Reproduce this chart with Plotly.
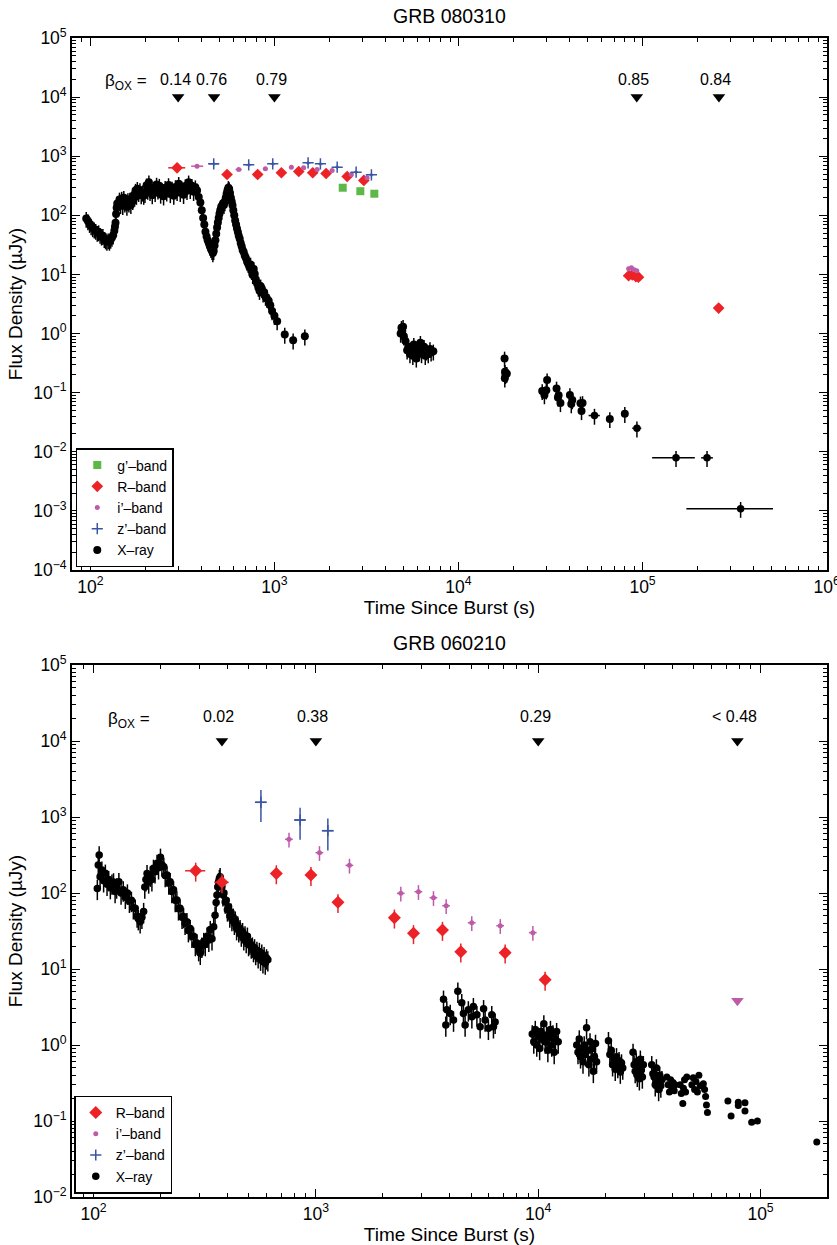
import math
import plotly.graph_objects as go

# ================= GRB 080310 (top panel) =================
top_xray_t = [95, 97, 99, 101, 103, 105, 107, 109, 111, 113, 115, 117, 119, 121, 123, 125, 127, 129, 131, 133,
              135, 136, 137, 138, 139, 140, 142, 144, 146, 148, 150, 152, 154, 156, 158, 160, 162, 164, 166, 168,
              170, 172, 174, 176, 178, 180, 183, 186, 189, 192, 195, 198, 202, 205, 208, 211, 214, 217, 221, 225,
              229, 233, 237, 241, 245, 250, 255, 260, 266, 272, 278, 284, 290, 296, 302, 308, 314, 321, 328, 335,
              342, 349, 356, 364, 372, 380, 388, 396, 403, 410, 416, 422, 428, 434, 440, 446, 452, 458, 463, 468,
              473, 478, 483, 488, 493, 498, 503, 508, 514, 520, 526, 532, 538, 544, 550, 556, 562, 568, 574, 580,
              586, 592, 598, 605, 612, 619, 626, 633, 640, 648, 656, 664, 672, 681, 690, 700, 710, 720, 730, 742,
              752, 762, 772, 782, 793, 805, 818, 830, 842, 855, 868, 880, 895, 910, 931, 950, 971, 1000, 1035, 1138,
              1264, 1463,
              4850, 4900, 4950, 5000, 5050, 5150, 5260, 5350, 5450, 5550, 5650, 5720, 5800, 5900, 6000, 6100, 6210,
              6300, 6400, 6500, 6600, 6700, 6850, 7000, 7100, 7300,
              17800, 17850, 17900, 18000, 18100, 18300,
              28500, 29300, 30000, 30300, 34100, 34700, 35000, 35800, 40300, 41000, 41500, 46000, 46600, 47200,
              66400, 80100]
top_xray_f = [88, 80, 72, 66, 61, 58, 55, 51, 52, 47, 44, 45, 40, 38, 36, 38, 36, 39, 42, 46,
              55, 64, 75, 105, 135, 158, 140, 186, 150, 192, 145, 198, 160, 172, 140, 182, 160, 186, 150, 192,
              175, 218, 200, 262, 215, 282, 240, 268, 220, 244, 215, 230, 322, 262, 362, 250, 300, 220, 272, 240,
              332, 265, 318, 225, 266, 210, 292, 245, 326, 230, 284, 215, 302, 250, 342, 240, 286, 222, 312, 260,
              362, 270, 318, 250, 300, 262, 205, 165, 122, 90, 70, 53, 44, 38, 34, 30, 27, 25, 23, 25,
              31, 38, 49, 62, 76, 90, 106, 122, 140, 147, 160, 150, 168, 198, 232, 265, 292, 278, 238, 198,
              172, 148, 122, 100, 82, 70, 60, 52, 45, 40, 34, 30, 26, 24, 21, 19, 16.5, 15.2, 13.6, 14.8,
              11.5, 9.8, 12.4, 10.2, 8.2, 7.0, 6.0, 5.3, 6.3, 5.7, 4.8, 5.0, 4.2, 3.9, 3.6, 3.0, 2.4, 2.0, 1.62, 0.96,
              0.77, 0.90,
              1.0, 1.25, 1.1, 1.3, 0.9, 0.75, 0.52, 0.6, 0.45, 0.55, 0.42, 0.65, 0.5, 0.38, 0.58, 0.48, 0.7,
              0.45, 0.55, 0.6, 0.42, 0.5, 0.45, 0.55, 0.48, 0.5,
              0.38, 0.175, 0.225, 0.2, 0.21, 0.21,
              0.107, 0.091, 0.11, 0.163, 0.118, 0.083, 0.09, 0.067, 0.091, 0.064, 0.075, 0.066, 0.049, 0.067,
              0.036, 0.044]
# late X-ray points with time bins
top_xray_late_t = [54800, 93200, 152000, 224000, 341000]
top_xray_late_f = [0.041, 0.025, 0.0079, 0.0079, 0.00109]
top_xray_late_tlo = [50900, 87900, 112700, 208000, 173000]
top_xray_late_thi = [58600, 98400, 192300, 241000, 511000]

top_g_t = [2350, 2930, 3490]
top_g_f = [293, 256, 232]

top_R_t = [296, 553, 811, 1091, 1356, 1615, 1909, 2485, 3060, 84000, 88000, 92000, 95000, 259000]
top_R_f = [637, 491, 491, 525, 552, 525, 510, 454, 389, 9.5, 9.8, 9.2, 9.0, 2.7]
top_R_tlo = [265, 553, 811, 1091, 1356, 1615, 1909, 2485, 3060, 84000, 88000, 92000, 95000, 259000]
top_R_thi = [328, 553, 811, 1091, 1356, 1615, 1909, 2485, 3060, 84000, 88000, 92000, 95000, 259000]

top_i_t = [380, 640, 893, 1236, 1442, 1706, 2058, 2618, 3187, 84000, 87000, 90000, 93000]
top_i_f = [678, 596, 613, 652, 637, 596, 574, 491, 432, 12.5, 13.0, 12.0, 11.5]
top_i_tlo = [353, 615, 865, 1200, 1400, 1660, 2000, 2560, 3120, 84000, 87000, 90000, 93000]
top_i_thi = [410, 665, 920, 1270, 1485, 1750, 2110, 2680, 3250, 84000, 87000, 90000, 93000]

top_z_t = [468, 725, 979, 1524, 1778, 2193, 2779, 3365]
top_z_f = [744, 716, 744, 774, 744, 652, 537, 485]
top_z_tlo = [440, 700, 950, 1480, 1730, 2140, 2710, 3290]
top_z_thi = [498, 750, 1010, 1570, 1830, 2250, 2850, 3440]

top_beta_t = [300, 470, 1000, 93000, 260000]
top_beta_f = [10000, 10000, 10000, 10000, 10000]
top_beta_text = ["0.14", "0.76", "0.79", "0.85", "0.84"]

# ================= GRB 060210 (bottom panel) =================
bot_xray_t = [104, 105, 106, 107, 109, 111, 113, 115, 117, 119, 121, 123, 125, 127, 130, 133, 136, 139, 142, 145,
              148, 151, 154, 157, 159, 162, 165, 168, 170, 172, 174, 177, 180, 183, 186, 189, 193, 196, 200, 203,
              207, 210, 214, 218, 221, 225, 229, 233, 237, 241, 245, 250, 254, 258, 263, 267, 272, 277, 282, 287,
              292, 297, 302, 307, 313, 318, 324, 330, 335, 341, 347, 352, 356, 359, 362, 365, 368, 371, 375, 378,
              382, 386, 391, 395, 400, 405, 410, 415, 419, 425, 430, 434, 440, 445, 450, 456, 462, 468, 474, 480,
              486, 492, 498, 505, 512, 518, 524, 530, 536, 543, 550, 557, 564, 571, 578, 585, 592, 600, 608,
              3750, 3840, 3880, 4020, 4160, 4350, 4530, 4610, 4690, 4850, 5030, 5110, 5300, 5480, 5680, 5770,
              5970, 6180, 6290, 6400,
              9400, 9550, 9700, 9850, 10000, 10150, 10300, 10450, 10600, 10750, 10900, 11050, 11200, 11350,
              11500, 11650, 11800, 11950, 12100, 12300,
              14900, 15100, 15300, 15500, 15700, 15900, 16100, 16300, 16500, 16700, 16900, 17100, 17300, 17500,
              17700, 17900, 18100, 18300,
              20700, 21000, 21300, 21600, 21900, 22200, 22500, 22800, 23100, 23400, 23700, 24000,
              26700, 27000, 27300, 27600, 27900, 28200, 28500, 28800, 29100, 29400, 29700,
              32400, 32800, 33200, 33600, 34000, 34400, 34800, 35200, 35600, 36000]
bot_xray_f = [115, 233, 316, 164, 200, 145, 182, 130, 150, 118, 135, 140, 105, 120, 141, 100, 110, 88, 100, 78,
              80, 64, 63, 50, 46, 42, 48, 57, 120, 150, 180, 140, 172, 150, 211, 190, 246, 215, 295, 235,
              222, 170, 172, 135, 141, 105, 110, 80, 81, 62, 63, 48, 49, 40, 42, 32, 34, 27, 27, 21,
              22, 18, 16.1, 20, 23, 21, 27, 24, 33, 25, 36, 51, 75, 94, 120, 141, 155, 164, 130, 121,
              95, 100, 76, 80, 60, 66, 50, 56, 45, 48, 40, 44, 34, 38, 32, 34, 28, 31, 25, 28,
              23, 27, 21, 22, 19.5, 20, 17.5, 19, 16, 17.5, 14.5, 17, 13.5, 16.1, 12.5, 15, 12, 14, 13.2,
              4.0, 1.83, 2.9, 2.6, 2.13, 5.1, 3.6, 2.6, 1.83, 2.9, 2.35, 3.2, 2.5, 1.74, 3.0, 2.13,
              1.66, 2.5, 1.74, 2.0,
              1.4, 1.1, 1.6, 1.0, 1.3, 0.9, 1.5, 1.2, 1.9, 1.1, 1.35, 0.85, 1.25, 1.6,
              1.0, 1.4, 0.8, 1.2, 1.5, 1.1,
              1.0, 0.8, 1.2, 0.7, 0.9, 0.6, 1.0, 0.75, 1.69, 0.85, 0.55, 1.1, 0.65, 0.9,
              0.45, 0.7, 1.05, 0.6,
              1.14, 0.75, 0.85, 0.55, 0.65, 0.48, 0.7, 0.52, 0.62, 0.44, 0.58, 0.5,
              0.8, 0.55, 0.45, 0.6, 0.4, 0.52, 0.36, 0.65, 0.47, 0.38, 0.55,
              0.55, 0.42, 0.38, 0.3, 0.5, 0.34, 0.26, 0.4, 0.29, 0.35]
# later X-ray points drawn without visible error bars
bot_xray_dot_t = [37900, 38400, 38900, 39400, 39900, 40400, 40900, 41300,
                  43500, 44000, 44700, 45000, 45500, 46000, 46600,
                  49100, 49800, 50500, 51200, 52000, 52800, 53500,
                  55300, 56000, 56600, 57100, 57700,
                  71300, 73700, 79400, 79400, 85100, 85100, 91200, 96800, 179000]
bot_xray_dot_f = [0.38, 0.3, 0.24, 0.35, 0.27, 0.32, 0.25, 0.3,
                  0.3, 0.23, 0.17, 0.27, 0.35, 0.24, 0.38,
                  0.3, 0.37, 0.26, 0.33, 0.24, 0.4, 0.29,
                  0.31, 0.26, 0.21, 0.162, 0.129,
                  0.183, 0.116, 0.176, 0.16, 0.174, 0.135, 0.096, 0.1, 0.053]

bot_R_t = [288, 378, 664, 950, 1257, 2255, 2748, 3710, 4485, 7100, 10740]
bot_R_f = [196, 138, 181, 172, 75.5, 47.3, 29.5, 32.6, 16.9, 16.4, 7.2]
bot_R_tlo = [258, 349, 664, 950, 1257, 2255, 2748, 3710, 4485, 6850, 10740]
bot_R_thi = [318, 405, 664, 950, 1257, 2255, 2748, 3710, 4485, 7350, 10740]

bot_i_t = [757, 1038, 1416, 2410, 2893, 3380, 3855, 5025, 6750, 9460]
bot_i_f = [509, 339, 231, 99, 104, 86.7, 68, 40.6, 37.1, 30.1]

bot_z_t = [566, 849, 1132]
bot_z_f = [1560, 912, 661]

bot_ilim_t = [78700]
bot_ilim_f = [3.83]

bot_beta_t = [378, 1000, 10000, 78700]
bot_beta_f = [10000, 10000, 10000, 10000]
bot_beta_text = ["0.02", "0.38", "0.29", "< 0.48"]

# axis tick labels
top_x_exp = [2, 3, 4, 5, 6]
top_y_exp = [-4, -3, -2, -1, 0, 1, 2, 3, 4, 5]
bot_x_exp = [2, 3, 4, 5]
bot_y_exp = [-2, -1, 0, 1, 2, 3, 4, 5]

# ---------------- styling ----------------
FONT = "Liberation Sans, Arial, Helvetica, sans-serif"
RED = "#EC2227"
GREEN = "#5DB847"
MAG = "#BE5BA9"
BLUE = "#3A55A5"
BLACK = "#000000"


def exp_label(e):
    return "10<sup>" + ("\u2212" + str(-e) if e < 0 else str(e)) + "</sup>"


def minor_vals(e0, e1):
    return [m * 10 ** e for e in range(e0, e1) for m in range(2, 10)]


def axis(exps, rng, domain, anchor, title, minor_range):
    return dict(
        type="log", range=rng, domain=domain, anchor=anchor, automargin=False,
        tickmode="array", tickvals=[10 ** e for e in exps], ticktext=[exp_label(e) for e in exps],
        ticks="inside", ticklen=8, tickwidth=1.3, tickcolor="black",
        minor=dict(tickmode="array", tickvals=minor_vals(*minor_range), ticks="inside",
                   ticklen=4, tickwidth=1, tickcolor="black", showgrid=False),
        showline=True, linecolor="black", linewidth=1.6, mirror="ticks",
        showgrid=False, zeroline=False, ticklabeloverflow="allow",
        tickfont=dict(family=FONT, size=17.5, color="black"),
        title=dict(text=title, font=dict(family=FONT, size=19, color="black")),
    )


fig = go.Figure()


def err_pct(v, color):
    return dict(type="percent", value=v, color=color, thickness=1.5, width=0)


def err_arr(t, lo, hi, color):
    return dict(type="data", symmetric=False,
                array=[h - x for x, h in zip(t, hi)],
                arrayminus=[x - l for x, l in zip(t, lo)],
                color=color, thickness=1.5, width=0)


# ---- top panel traces (X-ray drawn first, optical on top) ----
fig.add_trace(go.Scatter(x=top_xray_t, y=top_xray_f, mode="markers", name="X\u2013ray",
                         marker=dict(symbol="circle", size=8, color=BLACK),
                         error_y=err_pct(30, BLACK), legendgroup="xt", legendrank=5,
                         xaxis="x", yaxis="y", legend="legend"))
fig.add_trace(go.Scatter(x=top_xray_late_t, y=top_xray_late_f, mode="markers", name="X\u2013ray",
                         marker=dict(symbol="circle", size=7.5, color=BLACK),
                         error_x=err_arr(top_xray_late_t, top_xray_late_tlo, top_xray_late_thi, BLACK),
                         error_y=err_pct(30, BLACK), legendgroup="xt", showlegend=False,
                         xaxis="x", yaxis="y"))
fig.add_trace(go.Scatter(x=top_g_t, y=top_g_f, mode="markers", name="g\u2019\u2013band",
                         marker=dict(symbol="square", size=8, color=GREEN), legendrank=1,
                         xaxis="x", yaxis="y", legend="legend"))
fig.add_trace(go.Scatter(x=top_R_t, y=top_R_f, mode="markers", name="R\u2013band",
                         marker=dict(symbol="diamond", size=9, color=RED), legendrank=2,
                         error_x=err_arr(top_R_t, top_R_tlo, top_R_thi, RED),
                         error_y=err_pct(6, RED),
                         xaxis="x", yaxis="y", legend="legend"))
fig.add_trace(go.Scatter(x=top_i_t, y=top_i_f, mode="markers", name="i\u2019\u2013band",
                         marker=dict(symbol="circle", size=5, color=MAG), legendrank=3,
                         error_x=err_arr(top_i_t, top_i_tlo, top_i_thi, MAG),
                         error_y=err_pct(5, MAG),
                         xaxis="x", yaxis="y", legend="legend"))
fig.add_trace(go.Scatter(x=top_z_t, y=top_z_f, mode="markers", name="z\u2019\u2013band",
                         marker=dict(symbol="cross-thin", size=8, color=BLUE, line=dict(color=BLUE, width=1.5)),
                         legendrank=4,
                         error_x=err_arr(top_z_t, top_z_tlo, top_z_thi, BLUE),
                         error_y=err_pct(7, BLUE),
                         xaxis="x", yaxis="y", legend="legend"))
fig.add_trace(go.Scatter(x=top_beta_t, y=top_beta_f, mode="markers", showlegend=False,
                         marker=dict(symbol="triangle-down", size=11, color=BLACK),
                         xaxis="x", yaxis="y"))

# ---- bottom panel traces ----
fig.add_trace(go.Scatter(x=bot_xray_t, y=bot_xray_f, mode="markers", name="X\u2013ray",
                         marker=dict(symbol="circle", size=7.5, color=BLACK),
                         error_y=err_pct(30, BLACK), legendgroup="xb", legendrank=5,
                         xaxis="x2", yaxis="y2", legend="legend2"))
fig.add_trace(go.Scatter(x=bot_xray_dot_t, y=bot_xray_dot_f, mode="markers", name="X\u2013ray",
                         marker=dict(symbol="circle", size=7, color=BLACK),
                         legendgroup="xb", showlegend=False, xaxis="x2", yaxis="y2"))
fig.add_trace(go.Scatter(x=bot_R_t, y=bot_R_f, mode="markers", name="R\u2013band",
                         marker=dict(symbol="diamond", size=10, color=RED), legendrank=2,
                         error_x=err_arr(bot_R_t, bot_R_tlo, bot_R_thi, RED),
                         error_y=err_pct(28, RED),
                         xaxis="x2", yaxis="y2", legend="legend2"))
fig.add_trace(go.Scatter(x=bot_i_t, y=bot_i_f, mode="markers", name="i\u2019\u2013band",
                         marker=dict(symbol="circle", size=5, color=MAG), legendrank=3,
                         error_x=err_pct(4, MAG), error_y=err_pct(22, MAG),
                         xaxis="x2", yaxis="y2", legend="legend2"))
fig.add_trace(go.Scatter(x=bot_z_t, y=bot_z_f, mode="markers", name="z\u2019\u2013band",
                         marker=dict(symbol="cross-thin", size=8, color=BLUE, line=dict(color=BLUE, width=1.5)),
                         legendrank=4,
                         error_x=err_pct(6, BLUE), error_y=err_pct(45, BLUE),
                         xaxis="x2", yaxis="y2", legend="legend2"))
fig.add_trace(go.Scatter(x=bot_ilim_t, y=bot_ilim_f, mode="markers", showlegend=False,
                         marker=dict(symbol="triangle-down", size=11, color=MAG),
                         xaxis="x2", yaxis="y2"))
fig.add_trace(go.Scatter(x=bot_beta_t, y=bot_beta_f, mode="markers", showlegend=False,
                         marker=dict(symbol="triangle-down", size=11, color=BLACK),
                         xaxis="x2", yaxis="y2"))

# ---- annotations ----
ann = []
for t, txt in zip(top_beta_t, top_beta_text):
    ann.append(dict(x=math.log10(t), y=4.3, xref="x", yref="y", text=txt, showarrow=False,
                    xshift=-3, font=dict(family=FONT, size=16, color="black")))
for t, txt in zip(bot_beta_t, bot_beta_text):
    ann.append(dict(x=math.log10(t), y=4.32, xref="x2", yref="y2", text=txt, showarrow=False,
                    xshift=-3, font=dict(family=FONT, size=16, color="black")))
ann.append(dict(x=math.log10(157), y=4.26, xref="x", yref="y", text="\u03b2<sub>OX</sub> =",
                showarrow=False, font=dict(family=FONT, size=17, color="black")))
ann.append(dict(x=math.log10(145), y=4.28, xref="x2", yref="y2", text="\u03b2<sub>OX</sub> =",
                showarrow=False, font=dict(family=FONT, size=17, color="black")))
ann.append(dict(x=0.5, y=1.019, xref="paper", yref="paper", text="GRB 080310", showarrow=False,
                yanchor="middle", font=dict(family=FONT, size=19.5, color="black")))
ann.append(dict(x=0.5, y=0.478, xref="paper", yref="paper", text="GRB 060210", showarrow=False,
                yanchor="middle", font=dict(family=FONT, size=19.5, color="black")))

H_PLOT = 1245 - 38 - 48
top_dom = [(1197 - 570) / H_PLOT, 1.0]
bot_dom = [0.0, (1197 - 665) / H_PLOT]

xa = axis(top_x_exp, [math.log10(79.5), 6.002], [0, 1], "y", "Time Since Burst (s)", (1, 6))
ya = axis(top_y_exp, [-4, 5], top_dom, "x", "Flux Density (\u00b5Jy)", (-4, 5))
xb = axis(bot_x_exp, [math.log10(80), math.log10(1.99e5)], [0, 1], "y2", "Time Since Burst (s)", (1, 6))
yb = axis(bot_y_exp, [-2, 5], bot_dom, "x2", "Flux Density (\u00b5Jy)", (-2, 5))
xa["title"]["standoff"] = 4
xb["title"]["standoff"] = 4
ya["title"]["standoff"] = 6
yb["title"]["standoff"] = 6

legend_style = dict(bgcolor="white", bordercolor="black", borderwidth=1.5,
                    font=dict(family=FONT, size=14, color="black"),
                    xanchor="left", yanchor="bottom", tracegroupgap=0, itemsizing="trace",
                    traceorder="normal")

fig.update_layout(
    width=837, height=1245,
    margin=dict(l=72, r=10, t=38, b=48, autoexpand=False),
    paper_bgcolor="white", plot_bgcolor="white",
    xaxis=xa, yaxis=ya, xaxis2=xb, yaxis2=yb,
    legend=dict(x=0.005, y=(1197 - 567) / H_PLOT, **legend_style),
    legend2=dict(x=0.003, y=0.003, **legend_style),
    annotations=ann,
    showlegend=True,
)

fig.write_html("out.html")
